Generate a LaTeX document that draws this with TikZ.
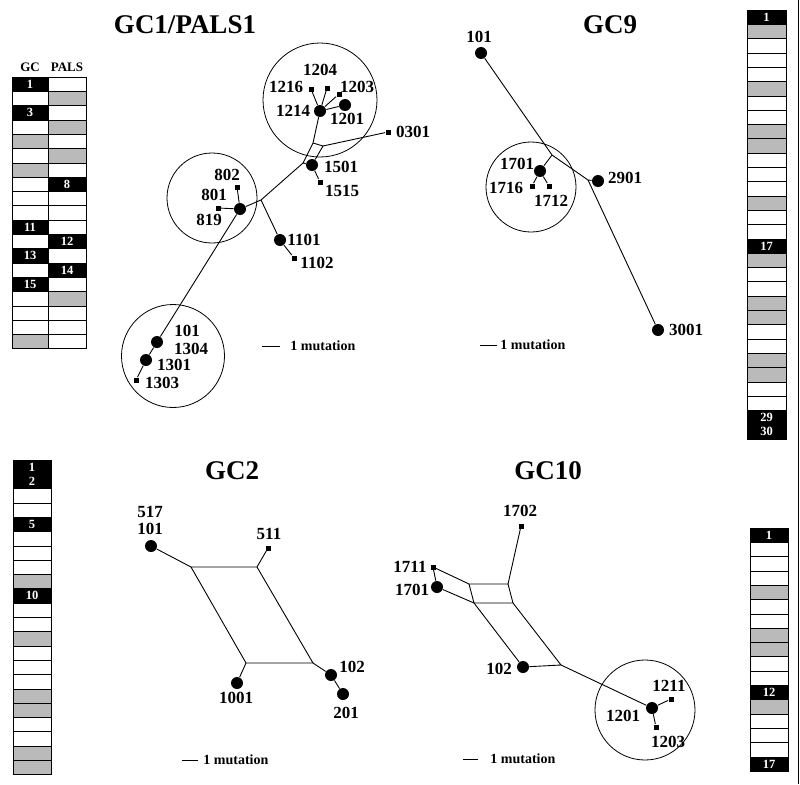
\documentclass[tikz,border=0pt]{standalone}
\usepackage{fontspec}
\setmainfont{Liberation Serif}
\colorlet{shade}{black!27}
\tikzset{hap/.style={circle,fill,inner sep=0pt,minimum size=12pt}}
\tikzset{var/.style={rectangle,fill,inner sep=0pt,minimum size=5pt}}
\tikzset{num/.style={font=\fontsize{17}{18}\selectfont\bfseries,inner sep=0pt}}
\tikzset{gctitle/.style={font=\fontsize{27}{30}\selectfont\bfseries,inner sep=0pt}}
\tikzset{group/.style={circle,draw,line width=0.8pt,inner sep=0pt}}
\tikzset{mutation/.style={font=\fontsize{14}{15}\selectfont\bfseries,inner sep=0pt,anchor=west}}
\tikzset{head/.style={font=\fontsize{13}{13}\selectfont\bfseries,inner sep=0pt}}
\tikzset{cellno/.style={text=white,font=\fontsize{12.5}{14.3}\selectfont\bfseries,inner sep=0pt,align=center}}
\newcommand{\rowh}{14.3}
\newcommand{\strip}[4]{\foreach \cl [count=\i from 0] in {#4}
  \filldraw[fill=\cl,draw=black,line width=0.5pt] (#1,{#2+\i*\rowh}) rectangle ++(#3,\rowh);}

\begin{document}
\begin{tikzpicture}[x=1pt,y=-1pt,line width=0.9pt]
\useasboundingbox (0,0) rectangle (800,784);
\draw[line width=1.5pt] (798.5,0) -- (798.5,784);

% allele strips
\node[head](gchead) at (30,67) {GC};
\node[head](palshead) at (67,67) {PALS};
\strip{12}{77}{36}{black,white,black,white,shade,white,shade,white,white,white,black,white,black,white,black,white,white,white,shade}
\strip{48}{77}{38}{white,shade,white,shade,white,shade,white,black,white,white,white,black,white,black,white,shade,white,white,white}
\strip{747}{10}{39}{black,shade,white,white,white,shade,white,white,shade,shade,white,white,white,shade,white,white,black,shade,white,white,shade,shade,white,white,shade,shade,white,white,black,black}
\strip{13}{460}{38}{black,black,white,white,black,white,white,white,shade,black,white,white,shade,white,white,white,shade,shade,white,white,shade,shade}
\strip{750}{528}{38}{black,white,white,white,shade,white,white,shade,shade,white,white,black,shade,white,white,white,black}
\node[cellno](gc1) at (30,{77+0.5*\rowh}) {1};
\node[cellno](gc3) at (30,{77+2.5*\rowh}) {3};
\node[cellno](gc11) at (30,{77+10.5*\rowh}) {11};
\node[cellno](gc13) at (30,{77+12.5*\rowh}) {13};
\node[cellno](gc15) at (30,{77+14.5*\rowh}) {15};
\node[cellno](pals8) at (67,{77+7.5*\rowh}) {8};
\node[cellno](pals12) at (67,{77+11.5*\rowh}) {12};
\node[cellno](pals14) at (67,{77+13.5*\rowh}) {14};
\node[cellno](a1) at (766.5,{10+0.5*\rowh}) {1};
\node[cellno](a17) at (766.5,{10+16.5*\rowh}) {17};
\node[cellno](a29) at (766.5,{10+29*\rowh}) {29\\30};
\node[cellno](b1) at (32,{460+1*\rowh}) {1\\2};
\node[cellno](b5) at (32,{460+4.5*\rowh}) {5};
\node[cellno](b10) at (32,{460+9.5*\rowh}) {10};
\node[cellno](c1) at (769,{528+0.5*\rowh}) {1};
\node[cellno](c12) at (769,{528+11.5*\rowh}) {12};
\node[cellno](c17) at (769,{528+16.5*\rowh}) {17};

% GC1/PALS1
\node[gctitle](title1) at (185,25) {GC1/PALS1};
\node[group,minimum size=114pt](grp12) at (320,100) {};
\node[group,minimum size=90pt](grp8) at (212,198) {};
\node[group,minimum size=103pt](grp13) at (173,356) {};
\node[hap](h1214) at (320,111) {};
\node[hap](h1201) at (345,105) {};
\node[var](s1216) at (311,89) {};
\node[var](s1204) at (327,88) {};
\node[var](s1203) at (339,94) {};
\node[var](s0301) at (388,132) {};
\node[hap](h1501) at (312,165) {};
\node[var](s1515) at (320,182) {};
\node[hap](h801) at (240,209) {};
\node[var](s802) at (237,187) {};
\node[var](s819) at (218,208) {};
\node[hap](h1101) at (280,240) {};
\node[var](s1102) at (294,258) {};
\node[hap](h101) at (157,342) {};
\node[hap](h1301) at (146,360) {};
\node[var](s1303) at (136,380) {};
\coordinate(ra) at (313,143);
\coordinate(rb) at (323,146);
\coordinate(rc) at (303,163);
\coordinate(j1) at (261,200);
\draw (h1214) -- (s1216) (h1214) -- (s1204) (h1214) -- (s1203) (h1214) -- (h1201);
\draw (h1214) -- (ra) -- (rc) -- (h1501) -- (rb) -- (ra);
\draw (rb) -- (s0301) (h1501) -- (s1515);
\draw (rc) -- (j1) -- (h801) (j1) -- (h1101) -- (s1102);
\draw (h801) -- (s802) (h801) -- (s819) (h801) -- (h101) -- (h1301) -- (s1303);
\node[num](l1204) at (320,70) {1204};
\node[num](l1216) at (286,87) {1216};
\node[num](l1203) at (357,87) {1203};
\node[num](l1214) at (293,111) {1214};
\node[num](l1201) at (347,119) {1201};
\node[num](l0301) at (413,132) {0301};
\node[num](l1501) at (341,167) {1501};
\node[num](l1515) at (342,191) {1515};
\node[num](l802) at (227,175) {802};
\node[num](l801) at (214,195) {801};
\node[num](l819) at (209,220) {819};
\node[num](l1101) at (304,240) {1101};
\node[num](l1102) at (317,263) {1102};
\node[num](l101) at (187,331) {101};
\node[num](l1304) at (191,349) {1304};
\node[num](l1301) at (174,365) {1301};
\node[num](l1303) at (162,383) {1303};
\node[mutation](mut1) at (290,346) {1 mutation};
\draw (mut1.west) ++(-10,0) -- ++(-18,0);

% GC9
\node[gctitle](title9) at (610,25) {GC9};
\node[group,minimum size=90pt](grp17) at (531,187) {};
\node[hap](h101b) at (481,53) {};
\node[hap](h1701) at (540,171) {};
\node[var](s1716) at (532,186) {};
\node[var](s1712) at (549,186) {};
\node[hap](h2901) at (598,181) {};
\node[hap](h3001) at (658,330) {};
\coordinate(k1) at (552,155);
\coordinate(k2) at (588,180);
\draw (h101b) -- (k1) -- (k2) -- (h3001) (k1) -- (h1701) (k2) -- (h2901);
\draw (h1701) -- (s1716) (h1701) -- (s1712);
\node[num](l101b) at (479,37) {101};
\node[num](l1701) at (517,164) {1701};
\node[num](l1716) at (506,188) {1716};
\node[num](l1712) at (551,201) {1712};
\node[num](l2901) at (625,178) {2901};
\node[num](l3001) at (686,330) {3001};
\node[mutation](mut9) at (500,345) {1 mutation};
\draw (mut9.west) ++(-3,0) -- ++(-17,0);

% GC2
\node[gctitle](title2) at (232,471) {GC2};
\node[hap](h517) at (151,546) {};
\node[var](s511) at (268,548) {};
\node[hap](h1001) at (237,683) {};
\node[hap](h102) at (331,675) {};
\node[hap](h201) at (343,694) {};
\coordinate(p1) at (191,567);
\coordinate(p2) at (257,567);
\coordinate(p3) at (313,663);
\coordinate(p4) at (246,663);
\draw (h517) -- (p1) -- (p2) -- (p3) -- (p4) -- (p1);
\draw (s511) -- (p2) (p4) -- (h1001) (p3) -- (h102) -- (h201);
\node[num](l517) at (150,512) {517};
\node[num](l101c) at (150,529) {101};
\node[num](l511) at (269,534) {511};
\node[num](l1001) at (236,698) {1001};
\node[num](l102) at (352,667) {102};
\node[num](l201) at (346,713) {201};
\node[mutation](mut2) at (203,760) {1 mutation};
\draw (mut2.west) ++(-5,0) -- ++(-16,0);

% GC10
\node[gctitle](title10) at (548,471) {GC10};
\node[group,minimum size=100pt](grp12b) at (645,710) {};
\node[var](s1702) at (521,526) {};
\node[var](s1711) at (433,567) {};
\node[hap](h1701b) at (437,587) {};
\node[hap](h102b) at (523,667) {};
\node[hap](h1201b) at (652,708) {};
\node[var](s1211) at (671,699) {};
\node[var](s1203b) at (656,727) {};
\coordinate(q1) at (469,584);
\coordinate(q2) at (508,584);
\coordinate(q3) at (474,603);
\coordinate(q4) at (513,603);
\coordinate(r1) at (561,665);
\draw (s1711) -- (q1) -- (q2) -- (q4) -- (q3) -- (q1);
\draw (s1711) -- (h1701b) -- (q3) -- (h102b) -- (r1) -- (q4);
\draw (s1702) -- (q2) (r1) -- (h1201b) -- (s1211) (h1201b) -- (s1203b);
\node[num](l1702) at (520,511) {1702};
\node[num](l1711) at (410,567) {1711};
\node[num](l1701b) at (412,590) {1701};
\node[num](l102b) at (499,669) {102};
\node[num](l1201b) at (623,716) {1201};
\node[num](l1211) at (669,686) {1211};
\node[num](l1203b) at (668,742) {1203};
\node[mutation](mut10) at (490,759) {1 mutation};
\draw (mut10.west) ++(-12,0) -- ++(-15,0);
\end{tikzpicture}
\end{document}
